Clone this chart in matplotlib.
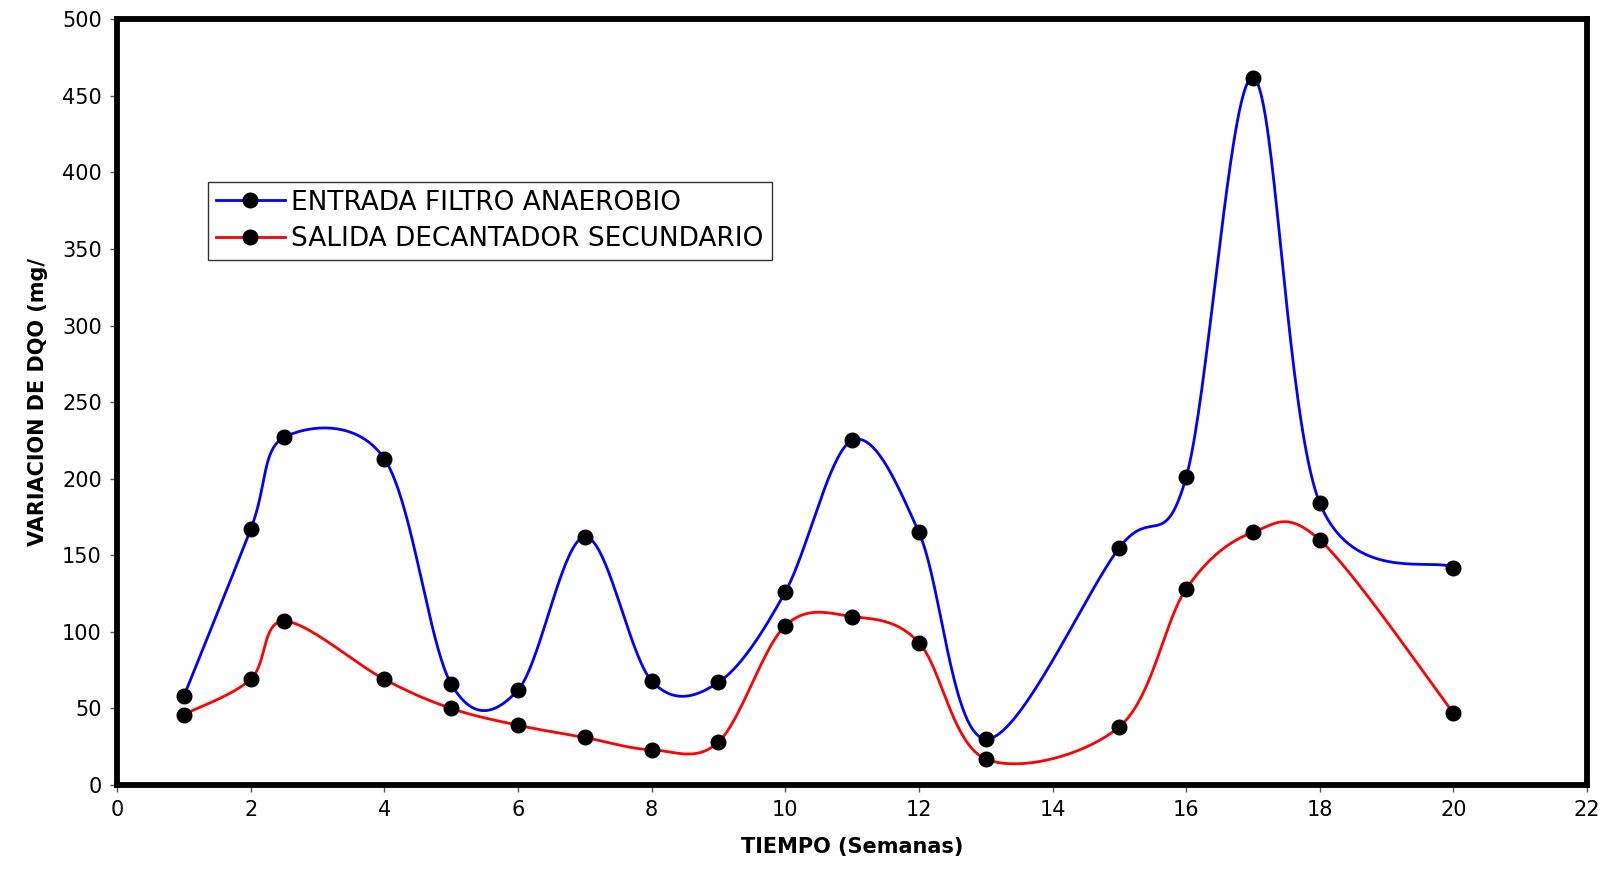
import numpy as np
import matplotlib
matplotlib.use("Agg")
import matplotlib.pyplot as plt

plt.rcParams['font.family'] = ['DejaVu Sans']

# weekly COD readings (mg/l)
semanas = [1, 2, 2.5, 4, 5, 6, 7, 8, 9, 10, 11, 12, 13, 15, 16, 17, 18, 20]
entrada = [58, 167, 227, 213, 66, 62, 162, 68, 67, 126, 225, 165, 30, 155, 201, 462, 184, 142]
salida = [46, 69, 107, 69, 50, 39, 31, 23, 28, 104, 110, 93, 17, 38, 128, 165, 160, 47]

x_ticks = list(range(0, 23, 2))
y_ticks = list(range(0, 501, 50))


def smooth_curve(x, y, sx, sy, n=40):
    """Bezier smoothing of a polyline, done in screen-like units (sx, sy per data unit)."""
    p = np.column_stack([np.asarray(x, float) * sx, np.asarray(y, float) * sy])
    pts = []
    for i in range(len(p) - 1):
        p0 = p[i - 1] if i > 0 else p[i]
        p1, p2 = p[i], p[i + 1]
        p3 = p[i + 2] if i + 2 < len(p) else p[i + 1]
        c1 = p1 + (p2 - p0) / 6.0
        c2 = p2 - (p3 - p1) / 6.0
        t = np.linspace(0, 1, n)[:, None]
        seg = ((1 - t) ** 3) * p1 + 3 * ((1 - t) ** 2) * t * c1 + 3 * (1 - t) * t ** 2 * c2 + t ** 3 * p2
        pts.append(seg if i == 0 else seg[1:])
    pts = np.vstack(pts)
    return pts[:, 0] / sx, pts[:, 1] / sy


fig = plt.figure(figsize=(16.08, 8.75), dpi=100)
ax = fig.add_axes([0.0728, 0.1029, 0.9142, 0.875])

# pixels per data unit, so the smoothing follows what is seen on screen
sx = 0.9142 * 1608 / 22
sy = 0.875 * 875 / 500

for serie, color, label in [(entrada, 'blue', 'ENTRADA FILTRO ANAEROBIO'),
                            (salida, 'red', 'SALIDA DECANTADOR SECUNDARIO')]:
    cx, cy = smooth_curve(semanas, serie, sx, sy)
    ax.plot(cx, cy, color=color, lw=2, zorder=2)
    ax.plot(semanas, serie, ls='none', marker='o', ms=10.5, color='black', zorder=3)
    ax.plot([], [], color=color, lw=2, marker='o', ms=10.5, mfc='black', mec='black', label=label)

ax.set_xlim(0, 22)
ax.set_ylim(0, 500)
ax.set_xticks(x_ticks)
ax.set_yticks(y_ticks)
ax.tick_params(axis='both', labelsize=15, length=5, width=1, color='#555555', direction='out', pad=6)

for s in ax.spines.values():
    s.set_linewidth(4.2)
    s.set_color('black')

ax.set_xlabel('TIEMPO (Semanas)', fontsize=15, fontweight='bold', labelpad=12)
ax.set_ylabel('VARIACION DE DQO (mg/', fontsize=15, fontweight='bold', labelpad=10)

leg = ax.legend(loc='upper left', bbox_to_anchor=(0.062, 0.788), fontsize=19, frameon=True,
                fancybox=False, edgecolor='black', handlelength=2.6, handletextpad=0.25,
                borderpad=0.3, labelspacing=0.4, borderaxespad=0)
leg.get_frame().set_linewidth(1)

fig.savefig('out.png', dpi=100, facecolor='white')
